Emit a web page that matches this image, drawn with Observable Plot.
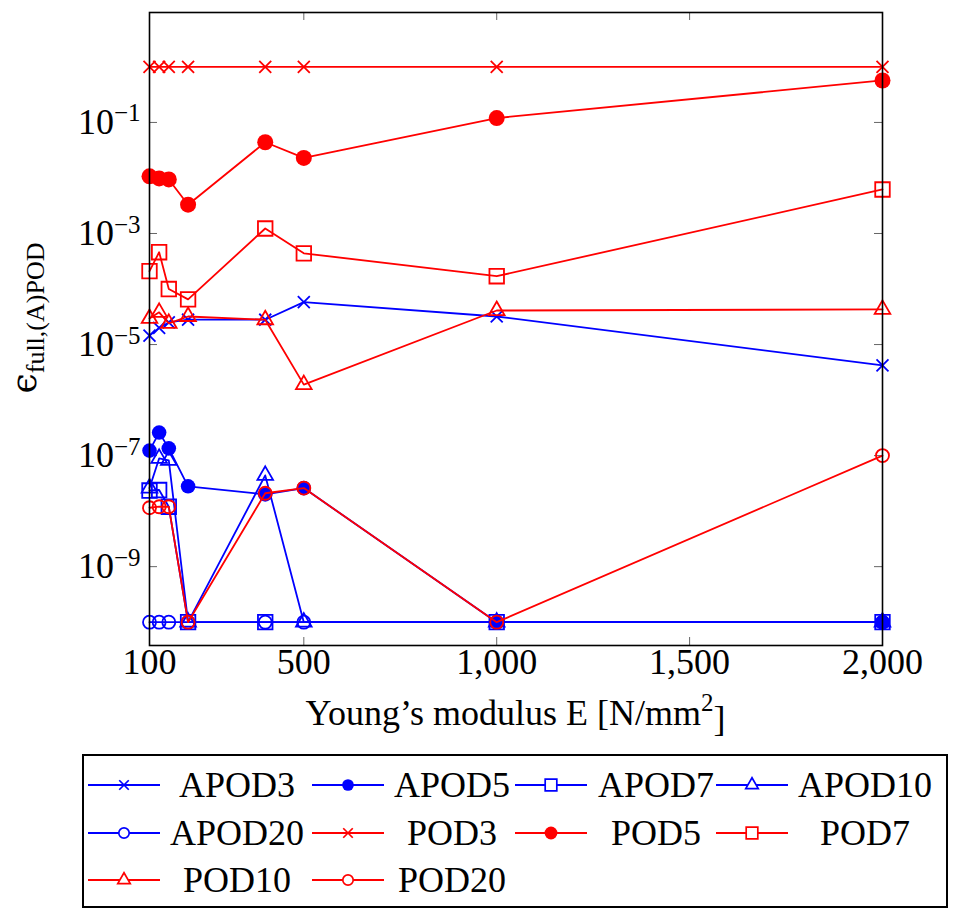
<!DOCTYPE html>
<html><head><meta charset="utf-8">
<script src="https://cdn.jsdelivr.net/npm/d3@7"></script>
<script src="https://cdn.jsdelivr.net/npm/@observablehq/plot@0.6"></script>
<style>
body{margin:0;background:#fff;font-family:"Liberation Serif","DejaVu Serif",serif;}
#wrap{position:relative;width:966px;height:917px;background:#fff;}
#legend{position:absolute;left:82px;top:754px;width:862px;height:150px;border:2px solid #000;background:#fff;}
.sw{position:absolute;transform:translate(-50%,-50%);}
.lt{position:absolute;transform:translate(-50%,-50%);font-size:36px;line-height:1;white-space:nowrap;color:#000;font-family:"Liberation Serif",serif;}
</style></head><body><div id="wrap"></div>
<script>
// ---- data ----
const E = [100, 125, 150, 200, 400, 500, 1000, 2000];
const APOD3  = [1.45e-5, 2.0e-5, 2.5e-5, 2.8e-5, 2.8e-5, 5.8e-5, 3.2e-5, 4.2e-6];
const APOD5  = [1.23e-7, 2.6e-7, 1.35e-7, 2.8e-8, 2.0e-8, 2.6e-8, 1e-10, 1e-10];
const APOD7  = [2.35e-8, 2.4e-8, 1.2e-8, 1e-10, 1e-10, null, 1e-10, 1e-10];
const APOD10 = [2.6e-8, 8.9e-8, 8.2e-8, 1e-10, 4.4e-8, 1e-10, 1e-10, 1e-10];
const APOD20 = [1e-10, 1e-10, 1e-10, 1e-10, 1e-10, 1e-10, 1e-10, 1e-10];
const POD3   = [1, 1, 1, 1, 1, 1, 1, 1];
const POD5   = [0.0107, 0.0098, 0.0094, 0.0033, 0.044, 0.023, 0.12, 0.57];
const POD7   = [2.1e-4, 4.6e-4, 1.0e-4, 6.5e-5, 1.23e-3, 4.4e-4, 1.7e-4, 6.2e-3];
const POD10  = [2.95e-5, 3.8e-5, 2.4e-5, 3.2e-5, 2.8e-5, 1.9e-6, 4.1e-5, 4.3e-5];
const POD20  = [1.15e-8, 1.2e-8, 1.2e-8, 1e-10, 2.1e-8, 2.6e-8, 1e-10, 1e-7];
const seriesNames = ["APOD3","APOD5","APOD7","APOD10","APOD20","POD3","POD5","POD7","POD10","POD20"];
const xTicks = [100, 500, 1000, 1500, 2000];
const yTicks = [1e-1, 1e-3, 1e-5, 1e-7, 1e-9];
const xLabel = "Young’s modulus E [N/mm";
const yLabelMain = "ϵ";
const yLabelSub = "full,(A)POD";

// ---- styles ----
const BLUE = "#0000ff", RED = "#ff0000";
const styleOf = {
  APOD3:{color:BLUE, symbol:"times", filled:false, r:5.5},
  APOD5:{color:BLUE, symbol:"circle", filled:true, r:7.3},
  APOD7:{color:BLUE, symbol:"square", filled:false, r:8.2},
  APOD10:{color:BLUE, symbol:"triangle", filled:false, r:5.8},
  APOD20:{color:BLUE, symbol:"circle", filled:false, r:6.5},
  POD3:{color:RED, symbol:"times", filled:false, r:5.5},
  POD5:{color:RED, symbol:"circle", filled:true, r:8},
  POD7:{color:RED, symbol:"square", filled:false, r:8.2},
  POD10:{color:RED, symbol:"triangle", filled:false, r:5.8},
  POD20:{color:RED, symbol:"circle", filled:false, r:6.5}
};
const valuesOf = {APOD3, APOD5, APOD7, APOD10, APOD20, POD3, POD5, POD7, POD10, POD20};

const W = 966, H = 750, ML = 149, MR = 84, MT = 12, MB = 105;
const PW = W - ML - MR, PH = H - MT - MB;
const SERIF = "'Liberation Serif', 'DejaVu Serif', serif";

const marks = [];
// ticks (inside, all four sides)
marks.push(Plot.tickY(yTicks, {y: d => d, insetRight: PW - 8, stroke: "#666", strokeWidth: 1}));
marks.push(Plot.tickY(yTicks, {y: d => d, insetLeft: PW - 8, stroke: "#666", strokeWidth: 1}));
marks.push(Plot.tickX(xTicks, {x: d => d, insetTop: PH - 8, stroke: "#666", strokeWidth: 1}));
marks.push(Plot.tickX(xTicks, {x: d => d, insetBottom: PH - 8, stroke: "#666", strokeWidth: 1}));

for (const name of seriesNames) {
  const s = styleOf[name];
  const rows = E.map((e, i) => ({E: e, v: valuesOf[name][i]})).filter(d => d.v != null);
  marks.push(Plot.line(rows, {x: "E", y: "v", stroke: s.color, strokeWidth: 1.8}));
  marks.push(Plot.dot(rows, {
    x: "E", y: "v", symbol: () => s.symbol, r: s.r,
    fill: s.filled ? s.color : "none", stroke: s.color, strokeWidth: s.filled ? 0 : 1.8
  }));
}
marks.push(Plot.axisX(xTicks, {tickSize: 0, tickPadding: 3, tickFormat: d3.format(","), label: null, fontSize: 36}));
marks.push(Plot.axisY(yTicks, {tickSize: 0, tickPadding: 9, tickFormat: d => "10^" + Math.round(Math.log10(d)), label: null, fontSize: 36}));
marks.push(Plot.frame({stroke: "#000", strokeWidth: 1.6}));

const chart = Plot.plot({
  width: W, height: H,
  marginLeft: ML, marginRight: MR, marginTop: MT, marginBottom: MB,
  style: {fontFamily: SERIF, background: "white", color: "#000", overflow: "visible"},
  x: {domain: [100, 2000]},
  y: {type: "log", domain: [Math.pow(10, -10.42), Math.pow(10, 0.98)]},
  symbol: {type: "identity"},
  marks
});
document.getElementById("wrap").appendChild(chart);

const svg = d3.select(chart);
svg.attr("font-family", SERIF);
// superscript tick labels for y
svg.selectAll('g[aria-label="y-axis tick label"] text').each(function() {
  const t = this.textContent;
  const exp = t.split("^")[1].replace("-", "−");
  const sel = d3.select(this);
  sel.text("10");
  sel.append("tspan").attr("dy", "-0.5em").attr("font-size", "25px").text(exp);
});
// x label
const xl = svg.append("text").attr("x", ML + PW / 2).attr("y", 725)
  .attr("text-anchor", "middle").attr("font-size", 36).attr("fill", "#000").text(xLabel);
xl.append("tspan").attr("dy", "-0.55em").attr("font-size", "25px").text("2");
xl.append("tspan").attr("dy", "0.55em").text("]");
// y label
const yl = svg.append("text").attr("transform", "translate(36,318) rotate(-90)")
  .attr("text-anchor", "middle").attr("fill", "#000");
yl.append("tspan").attr("font-size", 36).attr("font-family", "'DejaVu Serif', serif").text(yLabelMain);
yl.append("tspan").attr("font-size", 26).attr("dy", "0.3em").text(yLabelSub);
// force serif font on every text
svg.selectAll("text").each(function() {
  if (!this.getAttribute("font-family")) this.setAttribute("font-family", SERIF);
  this.style.fontFamily = this.getAttribute("font-family");
});
svg.selectAll("g").attr("font-family", SERIF);

// ---- legend ----
const legend = document.createElement("div");
legend.id = "legend";
document.getElementById("wrap").appendChild(legend);
const swX = [124, 348, 551, 752], txX = [237, 452, 656, 865], rowY = [785, 833, 880];
const symMap = {times: d3.symbolTimes, circle: d3.symbolCircle, square: d3.symbolSquare, triangle: d3.symbolTriangle};
seriesNames.forEach((name, i) => {
  const s = styleOf[name];
  const col = i % 4, row = Math.floor(i / 4);
  const lx = swX[col] - 84, ly = rowY[row] - 756;
  const sv = d3.create("svg").attr("width", 76).attr("height", 30).attr("class", "sw")
    .style("left", lx + "px").style("top", ly + "px").style("overflow", "visible");
  sv.append("line").attr("x1", 2).attr("x2", 74).attr("y1", 15).attr("y2", 15).attr("stroke", s.color).attr("stroke-width", 1.8);
  const lr = s.r * 0.8;
  if (s.symbol === "circle") {
    sv.append("circle").attr("cx", 38).attr("cy", 15).attr("r", lr)
      .attr("fill", s.filled ? s.color : "white").attr("stroke", s.color).attr("stroke-width", s.filled ? 0 : 1.7);
  } else {
    sv.append("path").attr("transform", "translate(38,15)").attr("d", d3.symbol(symMap[s.symbol], Math.PI * lr * lr)())
      .attr("fill", "white").attr("stroke", s.color).attr("stroke-width", 1.7);
  }
  legend.appendChild(sv.node());
  const t = document.createElement("div");
  t.className = "lt";
  t.style.left = (txX[col] - 84) + "px";
  t.style.top = (rowY[row] - 756) + "px";
  t.textContent = name;
  legend.appendChild(t);
});
</script>
</body></html>
